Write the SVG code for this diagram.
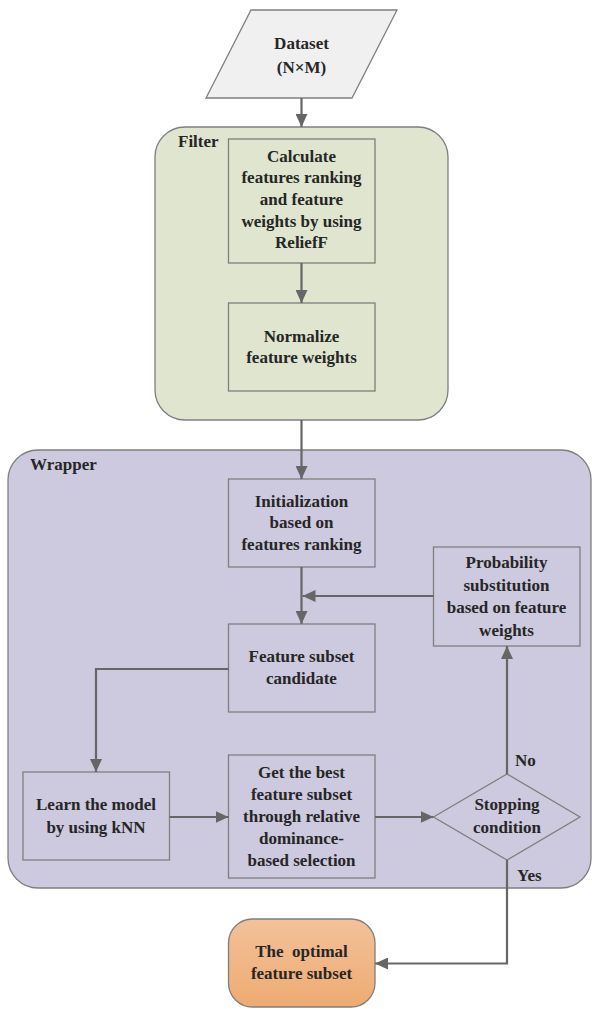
<svg xmlns="http://www.w3.org/2000/svg" width="592" height="1009" viewBox="0 0 592 1009" font-family="Liberation Serif, Times New Roman, serif">
<style>
text{font-weight:700;font-size:17px;fill:#262626;text-anchor:middle}
.lbl{text-anchor:start}
.box{stroke:#7f7f7f;stroke-width:1.3}
.fb{fill:#dfe5ce}
.wb{fill:#cdc9de}
.con{fill:none;stroke:#666;stroke-width:2.2}
</style>
<defs>
<marker id="ah" markerUnits="userSpaceOnUse" markerWidth="14" markerHeight="12" refX="13" refY="6" orient="auto">
<path d="M0,0 L13,6 L0,12 z" fill="#666"/>
</marker>
<linearGradient id="og" x1="0" y1="0" x2="0" y2="1">
<stop offset="0" stop-color="#f3c19a"/>
<stop offset="1" stop-color="#eeab72"/>
</linearGradient>
</defs>
<g id="filter">
<rect x="155" y="127" width="293" height="293" rx="30" class="box fb"/>
<text x="178" y="147" class="lbl">Filter</text>
</g>
<g id="wrapper">
<rect x="8" y="450" width="583" height="438" rx="30" class="box wb"/>
<text x="30" y="470" class="lbl">Wrapper</text>
</g>
<g id="dataset">
<polygon points="251,10 397,10 352,98 206,98" class="box" fill="#f0f0f0"/>
<text x="301.5" y="49">Dataset</text>
<text x="301.5" y="73">(N×M)</text>
</g>
<g id="relieff">
<rect x="228.5" y="139" width="146.5" height="124" class="box fb"/>
<text x="301.5" y="162">Calculate</text>
<text x="301.5" y="183">features ranking</text>
<text x="301.5" y="205">and feature</text>
<text x="301.5" y="227">weights by using</text>
<text x="301.5" y="248">ReliefF</text>
</g>
<g id="normalize">
<rect x="228.5" y="303" width="146.5" height="88" class="box fb"/>
<text x="301.5" y="342">Normalize</text>
<text x="301.5" y="363">feature weights</text>
</g>
<g id="init">
<rect x="228.5" y="479" width="146.5" height="88" class="box wb"/>
<text x="301.5" y="507">Initialization</text>
<text x="301.5" y="528">based on</text>
<text x="301.5" y="550">features ranking</text>
</g>
<g id="prob">
<rect x="433.5" y="547" width="146.5" height="99" class="box wb"/>
<text x="506.5" y="568">Probability</text>
<text x="506.5" y="590.5">substitution</text>
<text x="506.5" y="613">based on feature</text>
<text x="506.5" y="635.5">weights</text>
</g>
<g id="candidate">
<rect x="228.5" y="624" width="146.5" height="88" class="box wb"/>
<text x="301.5" y="662">Feature subset</text>
<text x="301.5" y="684">candidate</text>
</g>
<g id="learn">
<rect x="23" y="772" width="146.5" height="88" class="box wb"/>
<text x="96" y="810">Learn the model</text>
<text x="96" y="833">by using kNN</text>
</g>
<g id="best">
<rect x="228.5" y="755" width="146.5" height="123" class="box wb"/>
<text x="301.5" y="778">Get the best</text>
<text x="301.5" y="800">feature subset</text>
<text x="301.5" y="822">through relative</text>
<text x="301.5" y="844">dominance-</text>
<text x="301.5" y="866">based selection</text>
</g>
<g id="stop">
<polygon points="433.5,817 507,774 580,817 507,860" class="box wb"/>
<text x="507" y="810">Stopping</text>
<text x="507" y="833">condition</text>
</g>
<g id="optimal">
<rect x="228.5" y="919" width="146.5" height="88" rx="24" class="box" fill="url(#og)"/>
<text x="301.5" y="957" xml:space="preserve">The  optimal</text>
<text x="301.5" y="979">feature subset</text>
</g>
<g id="connectors">
<line x1="301.5" y1="98" x2="301.5" y2="127" class="con" marker-end="url(#ah)"/>
<line x1="301.5" y1="263" x2="301.5" y2="303" class="con" marker-end="url(#ah)"/>
<line x1="301.5" y1="420" x2="301.5" y2="479" class="con" marker-end="url(#ah)"/>
<line x1="301.5" y1="567" x2="301.5" y2="624" class="con" marker-end="url(#ah)"/>
<line x1="433.5" y1="596" x2="302.5" y2="596" class="con" marker-end="url(#ah)"/>
<polyline points="228.5,669 96,669 96,772" class="con" marker-end="url(#ah)"/>
<line x1="169.5" y1="817" x2="228.5" y2="817" class="con" marker-end="url(#ah)"/>
<line x1="375" y1="817" x2="433.5" y2="817" class="con" marker-end="url(#ah)"/>
<line x1="507" y1="774" x2="507" y2="646" class="con" marker-end="url(#ah)"/>
<polyline points="507,860 507,963.5 375,963.5" class="con" marker-end="url(#ah)"/>
<text x="515" y="766" class="lbl">No</text>
<text x="517" y="881" class="lbl">Yes</text>
</g>
</svg>
